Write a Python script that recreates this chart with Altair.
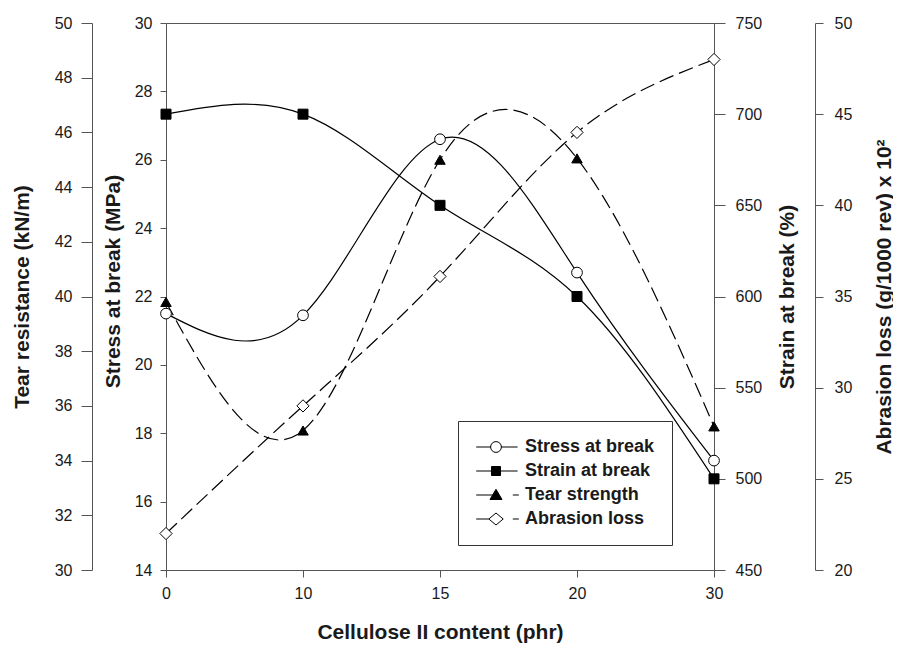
import altair as alt
import pandas as pd

# ---------------- data ----------------
cats = ["0", "10", "15", "20", "30"]                 # Cellulose II content (phr)
stress = [21.5, 21.45, 26.6, 22.7, 17.2]             # MPa
strain = [700, 700, 650, 600, 500]                   # %
tear = [39.8, 35.1, 45.0, 45.05, 35.25]              # kN/m
abrasion = [22.0, 29.0, 36.1, 44.0, 48.0]            # g/1000 rev x 10^2

series_names = ["Stress at break", "Strain at break", "Tear strength", "Abrasion loss"]

stress_ticks = [14, 16, 18, 20, 22, 24, 26, 28, 30]
tear_ticks = [30, 32, 34, 36, 38, 40, 42, 44, 46, 48, 50]
strain_ticks = [450, 500, 550, 600, 650, 700, 750]
abrasion_ticks = [20, 25, 30, 35, 40, 45, 50]

FONT = "Liberation Sans"
AX = "#555555"
TXT = "#1a1a1a"
W, H = 548, 547
TFS = 21  # axis title font size

x_enc = alt.X(
    "x:O", sort=cats,
    scale=alt.Scale(type="point", padding=0),
    axis=alt.Axis(title="Cellulose II content (phr)", labelAngle=0, tickSize=7,
                  labelPadding=8, labelFontSize=16, titleFontSize=TFS,
                  titleFontWeight="bold", titleY=62, titleBaseline="middle",
                  domainColor=AX, tickColor=AX, labelColor=TXT, titleColor=TXT,
                  grid=False),
)


def yaxis(title, ticks, orient, offset, tick_size, label_pad, title_x, title_y):
    return alt.Axis(title=title, values=ticks, orient=orient, offset=offset,
                    tickSize=tick_size, labelPadding=label_pad, labelFontSize=16,
                    titleFontSize=TFS, titleFontWeight="bold", titleAngle=270,
                    titleBaseline="middle", titleAlign="center",
                    titleX=title_x, titleY=title_y, grid=False,
                    domainColor=AX, tickColor=AX, labelColor=TXT, titleColor=TXT)


def y_enc(dom, axis):
    return alt.Y("value:Q", scale=alt.Scale(domain=dom, nice=False, zero=False), axis=axis)


series = [
    dict(vals=stress, dom=[14, 30],
         axis=yaxis("Stress at break (MPa)", stress_ticks, "left", 0, 6, 8, -53, 258),
         dash=None, shape="circle", fill="white", size=115),
    dict(vals=strain, dom=[450, 750],
         axis=yaxis("Strain at break (%)", strain_ticks, "right", 0, 11, 10, 73, H / 2),
         dash=None, shape="square", fill="black", size=100),
    dict(vals=tear, dom=[30, 50],
         axis=yaxis("Tear resistance (kN/m)", tear_ticks, "left", 74, 11, 9, -70, H / 2),
         dash=[15, 6], shape="triangle-up", fill="black", size=110),
    dict(vals=abrasion, dom=[20, 50],
         axis=yaxis("Abrasion loss (g/1000 rev) x 10²", abrasion_ticks, "right", 101, 8, 11, 69, H / 2),
         dash=[15, 6], shape="diamond", fill="white", size=150),
]

line_layers = []
point_layers = []
for s in series:
    d = pd.DataFrame({"x": cats, "value": s["vals"]})
    lkw = dict(interpolate="natural", color="black", strokeWidth=1.2)
    if s["dash"]:
        lkw["strokeDash"] = s["dash"]
    line_layers.append(
        alt.Chart(d).mark_line(**lkw).encode(x=x_enc, y=y_enc(s["dom"], s["axis"]))
    )
    point_layers.append(
        alt.Chart(d).mark_point(shape=s["shape"], filled=True, fill=s["fill"],
                                stroke="black", strokeWidth=1, size=s["size"], opacity=1)
        .encode(x=x_enc, y=y_enc(s["dom"], None))
    )

# legend symbols: line + marker (+ dash for dashed series), unit = 6 px
legend_paths = [
    "M-3.3,0H-0.9M0.9,0H3.6M0.9,0A0.9,0.9,0,1,1,-0.9,0A0.9,0.9,0,1,1,0.9,0Z",
    "M-3.3,0H-0.75M0.75,0H3.6M-0.75,-0.75H0.75V0.75H-0.75Z",
    "M-3.3,0H0M2.8,0H3.8M0,-0.95L1,0.75H-1Z",
    "M-3.3,0H-1.2M2.8,0H3.8M0,-1L1.2,0L0,1L-1.2,0Z",
]
legend_fills = ["white", "black", "black", "white"]
legend_strokes = ["black", "black", "black", "black"]

leg = alt.Legend(title=None, orient="none", legendX=292, legendY=398, padding=17,
                 symbolOffset=12, labelOffset=20, symbolSize=144,
                 symbolStrokeWidth=1, symbolStrokeColor="black", symbolOpacity=1,
                 labelFontSize=18, labelFont=FONT, labelFontWeight="bold",
                 labelColor=TXT, rowPadding=6, strokeColor="#333333",
                 fillColor="white", labelLimit=300)

long_df = pd.DataFrame({
    "x": cats * 4,
    "series": [n for n in series_names for _ in cats],
    "value": stress + strain + tear + abrasion,
})
legend_layer = alt.Chart(long_df).mark_point(opacity=0, filled=True).encode(
    x=x_enc,
    y=alt.Y("value:Q", axis=None),
    shape=alt.Shape("series:N", scale=alt.Scale(domain=series_names, range=legend_paths), legend=leg),
    fill=alt.Fill("series:N", scale=alt.Scale(domain=series_names, range=legend_fills), legend=leg),
    stroke=alt.Stroke("series:N", scale=alt.Scale(domain=series_names, range=legend_strokes), legend=leg),
)

chart = alt.layer(*line_layers, *point_layers, legend_layer).resolve_scale(
    y="independent"
).properties(
    width=W, height=H,
    autosize=alt.AutoSizeParams(type="none"),
    padding={"left": 158, "top": 15, "right": 179, "bottom": 73},
).configure(
    font=FONT,
).configure_view(
    stroke=AX, strokeWidth=1,
).configure_axis(
    labelFont=FONT, titleFont=FONT, domainWidth=1, tickWidth=1,
)

chart.save("out.html", embed_options={"renderer": "svg", "actions": False})
